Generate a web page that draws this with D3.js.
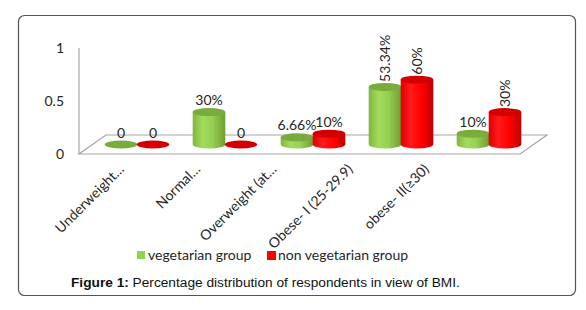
<!DOCTYPE html>
<html>
<head>
<meta charset="utf-8">
<script src="https://cdn.jsdelivr.net/npm/d3@7"></script>
<style>
  body { margin: 0; background: #fff; }
  svg text { font-family: Lato, "Open Sans", sans-serif; }
</style>
</head>
<body>
<svg width="586" height="310"></svg>
<script>
// data
var categories = ["Underweight…", "Normal…", "Overweight (at…", "Obese- I (25-29.9)", "obese- II(≥30)"];
var vegValues = [0, 0.30, 0.0666, 0.5334, 0.10];
var nonVegValues = [0, 0, 0.10, 0.60, 0.30];
var vegLabels = ["0", "30%", "6.66%", "53.34%", "10%"];
var nonVegLabels = ["0", "0", "10%", "60%", "30%"];
var yTicks = [0, 0.5, 1];
var seriesNames = ["vegetarian group", "non vegetarian group"];

var svg = d3.select("svg");
var defs = svg.append("defs");

// gradients for the cylinders
function addGradient(id, stops) {
    var g = defs.append("linearGradient").attr("id", id)
        .attr("x1", "0%").attr("x2", "100%").attr("y1", "0%").attr("y2", "0%");
    stops.forEach(function(s) {
        g.append("stop").attr("offset", s[0]).attr("stop-color", s[1]);
    });
}
addGradient("gGreen", [["0%", "#7fb53e"], ["30%", "#a3dc5c"], ["60%", "#96d052"], ["100%", "#6f9f33"]]);
addGradient("gRed", [["0%", "#e00000"], ["30%", "#ff1a1a"], ["65%", "#ff0000"], ["100%", "#c00000"]]);

// frame
svg.append("rect")
    .attr("x", 18.5).attr("y", 15.5)
    .attr("width", 557).attr("height", 280)
    .attr("rx", 6)
    .attr("fill", "#fff")
    .attr("stroke", "#555")
    .attr("stroke-width", 1.2);

// scales
var x = d3.scaleBand().domain(categories).range([93, 533]);
var labelX = d3.scalePoint().domain(categories).range([125, 430]);
var yAxis = d3.scaleLinear().domain([0, 1]).range([154, 48]);
var barH = d3.scaleLinear().domain([0, 1]).range([0, 108]);
var baseY = 144.5;
var rx = 16.3, ry = 4;
var depth = {dx: 27, dy: -19};

// floor
var floor = svg.append("g").attr("stroke", "#a6a6a6").attr("fill", "none").attr("stroke-width", 1.2);
floor.append("path")
    .attr("d", "M79," + yAxis(0) +
        " L520," + yAxis(0) +
        " l" + depth.dx + "," + depth.dy +
        " L" + (79 + depth.dx) + "," + (yAxis(0) + depth.dy) + " Z");
floor.append("line")
    .attr("x1", 79).attr("x2", 79)
    .attr("y1", yAxis(1)).attr("y2", yAxis(0));

// y tick labels
svg.append("g").selectAll("text")
    .data(yTicks)
    .enter().append("text")
    .attr("x", 64)
    .attr("y", function(d) { return yAxis(d) + 5; })
    .attr("text-anchor", "end")
    .attr("font-size", "14px")
    .attr("fill", "#262626")
    .text(function(d) { return d; });

// build bar records
var bars = [];
categories.forEach(function(c, i) {
    bars.push({cat: c, i: i, v: vegValues[i], label: vegLabels[i], s: 0});
    bars.push({cat: c, i: i, v: nonVegValues[i], label: nonVegLabels[i], s: 1});
});
function cx(d) { return x(d.cat) + x.bandwidth() / 2 + (d.s == 0 ? -16 : 16); }

var barG = svg.append("g");
bars.forEach(function(d) {
    var c = cx(d);
    var top = baseY - barH(d.v);
    var fill = d.s == 0 ? "url(#gGreen)" : "url(#gRed)";
    var topFill = d.s == 0 ? "#7aab3d" : "#d40000";
    if (d.v > 0) {
        barG.append("path")
            .attr("d", "M" + (c - rx) + "," + top +
                " L" + (c - rx) + "," + baseY +
                " A" + rx + "," + ry + " 0 0 0 " + (c + rx) + "," + baseY +
                " L" + (c + rx) + "," + top + " Z")
            .attr("fill", fill);
    }
    barG.append("ellipse")
        .attr("cx", c).attr("cy", top)
        .attr("rx", rx).attr("ry", ry)
        .attr("fill", topFill);
});

// data labels
svg.append("g").selectAll("text")
    .data(bars)
    .enter().append("text")
    .attr("font-size", "14px")
    .attr("fill", "#262626")
    .attr("transform", function(d) {
        var top = baseY - barH(d.v);
        if (d.i >= 3 && d.v > 0.2) {
            return "translate(" + (cx(d) + 5) + "," + (top - 5) + ") rotate(-90)";
        }
        return "translate(" + cx(d) + "," + (top - 7) + ")";
    })
    .attr("text-anchor", function(d) { return (d.i >= 3 && d.v > 0.2) ? "start" : "middle"; })
    .text(function(d) { return d.label; });

// category labels
svg.append("g").selectAll("text")
    .data(categories)
    .enter().append("text")
    .attr("font-size", "14px")
    .attr("fill", "#262626")
    .attr("text-anchor", "end")
    .attr("transform", function(d) { return "translate(" + labelX(d) + ",170) rotate(-45)"; })
    .text(function(d) { return d; });

// legend
var legend = svg.append("g");
var legX = [137, 267];
var legColors = ["#92d050", "#ff0000"];
seriesNames.forEach(function(n, i) {
    legend.append("rect")
        .attr("x", legX[i]).attr("y", 251)
        .attr("width", i == 0 ? 8 : 9).attr("height", i == 0 ? 8 : 9)
        .attr("fill", legColors[i]);
    legend.append("text")
        .attr("x", legX[i] + 11).attr("y", 260)
        .attr("font-size", "14px")
        .attr("fill", "#262626")
        .text(n);
});

// caption
var cap = svg.append("text")
    .attr("x", 71).attr("y", 287)
    .style("font-family", "'Liberation Sans', Arial, sans-serif")
    .attr("font-size", "13.7px")
    .attr("fill", "#111");
cap.append("tspan").attr("font-weight", "bold").text("Figure 1:");
cap.append("tspan").text(" Percentage distribution of respondents in view of BMI.");
</script>
</body>
</html>
